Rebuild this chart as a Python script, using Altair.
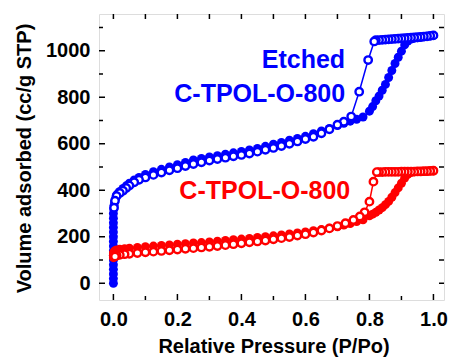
import altair as alt
import pandas as pd

# ---- data ----
etched_ads_P = [0, 0, 0, 0, 0, 0, 0, 0, 0, 0, 0, 0, 0, 0, 0, 0, 0.001, 0.002, 0.004, 0.007,
                0.01, 0.015, 0.02, 0.03, 0.04, 0.05, 0.065, 0.08, 0.1, 0.125, 0.15, 0.175, 0.2,
                0.225, 0.25, 0.275, 0.3, 0.325, 0.35, 0.375, 0.4, 0.425, 0.45, 0.475, 0.5,
                0.525, 0.55, 0.575, 0.6, 0.625, 0.65, 0.675, 0.7, 0.72, 0.74, 0.76, 0.78, 0.8,
                0.81, 0.82, 0.83, 0.84, 0.85, 0.86, 0.87, 0.88, 0.89, 0.9, 0.91, 0.92, 0.93,
                0.94, 0.95, 0.96, 0.97, 0.98, 0.99, 1.0]
etched_ads_V = [0, 20, 40, 60, 80, 100, 120, 140, 160, 180, 200, 220, 240, 260, 280, 300, 320, 335, 350, 365,
                380, 388, 395, 408, 419, 430, 444, 455, 468, 480, 490, 500, 510,
                520, 530, 537, 543, 549, 555, 561, 567, 573, 580, 589, 598,
                606, 615, 623, 632, 643, 655, 666, 678, 688, 697, 705, 715, 740,
                760, 785, 805, 830, 855, 885, 915, 945, 972, 998, 1025, 1042, 1050,
                1054, 1056, 1058, 1060, 1062, 1064, 1066]
etched_des_P = [1.0, 0.99, 0.98, 0.97, 0.96, 0.95, 0.94, 0.93, 0.92, 0.91, 0.9, 0.89, 0.88, 0.87,
                0.86, 0.85, 0.84, 0.83, 0.82, 0.815, 0.796, 0.768, 0.743, 0.72, 0.7, 0.675, 0.65,
                0.625, 0.6, 0.575, 0.55, 0.525, 0.5, 0.475, 0.45, 0.425, 0.4, 0.375, 0.35, 0.325,
                0.3, 0.275, 0.25, 0.225, 0.2, 0.175, 0.15, 0.125, 0.1, 0.08, 0.065, 0.05, 0.04,
                0.03, 0.02, 0.01, 0.005, 0.002]
etched_des_V = [1066, 1064, 1062, 1061, 1059, 1058, 1057, 1056, 1055, 1054, 1053, 1052, 1051, 1050,
                1049, 1048, 1047, 1046, 1045, 1040, 960, 824, 717, 695, 682, 662, 645,
                630, 620, 610, 600, 590, 582, 574, 566, 558, 552, 546, 540, 534,
                528, 520, 513, 504, 495, 486, 476, 466, 455, 445, 434, 420, 410,
                398, 388, 375, 355, 325]

pristine_ads_P = [0, 0, 0, 0.002, 0.005, 0.01, 0.02, 0.035, 0.05, 0.075, 0.1, 0.125, 0.15, 0.175,
                  0.2, 0.225, 0.25, 0.275, 0.3, 0.325, 0.35, 0.375, 0.4, 0.425, 0.45, 0.475, 0.5,
                  0.525, 0.55, 0.575, 0.6, 0.625, 0.65, 0.675, 0.7, 0.72, 0.74, 0.76, 0.78, 0.8,
                  0.81, 0.82, 0.83, 0.84, 0.85, 0.86, 0.87, 0.88, 0.89, 0.9, 0.91, 0.92, 0.93,
                  0.94, 0.95, 0.96, 0.97, 0.98, 0.99, 1.0]
pristine_ads_V = [110, 120, 130, 135, 140, 143, 146, 149, 151, 154, 157, 160, 163, 165,
                  168, 170, 173, 175, 178, 181, 184, 187, 190, 193, 197, 200, 204,
                  208, 212, 216, 221, 226, 231, 237, 243, 250, 257, 265, 273, 290,
                  297, 305, 315, 325, 338, 352, 370, 390, 410, 430, 452, 468, 476,
                  479, 480, 481, 481, 482, 483, 484]
pristine_des_P = [1.0, 0.99, 0.98, 0.97, 0.96, 0.95, 0.94, 0.93, 0.92, 0.91, 0.9, 0.89, 0.88, 0.87,
                  0.86, 0.85, 0.84, 0.83, 0.823, 0.8125, 0.8, 0.785, 0.77, 0.75, 0.725, 0.7, 0.675,
                  0.65, 0.625, 0.6, 0.575, 0.55, 0.525, 0.5, 0.475, 0.45, 0.425, 0.4, 0.375, 0.35,
                  0.325, 0.3, 0.275, 0.25, 0.225, 0.2, 0.175, 0.15, 0.125, 0.1, 0.075, 0.05, 0.035,
                  0.02, 0.01, 0.005]
pristine_des_V = [484, 483, 482, 482, 481, 481, 480, 480, 480, 480, 480, 479, 479, 479,
                  479, 479, 478, 478, 478, 437, 351, 305, 287, 272, 258, 246, 236,
                  227, 218, 211, 205, 199, 194, 189, 184, 180, 176, 172, 168, 164,
                  160, 157, 154, 151, 148, 145, 142, 139, 136, 133, 130, 127, 125,
                  122, 119, 115]

series_names = ["Etched", "Pristine"]
series_colors = ["#0000ff", "#ff0000"]

label_texts = ["Etched", "C-TPOL-O-800", "C-TPOL-O-800"]
label_series = ["Etched", "Etched", "Pristine"]
label_P = [0.724, 0.724, 0.74]
label_V = [926, 779, 363]

x_major = [0.0, 0.2, 0.4, 0.6, 0.8, 1.0]
x_minor = [0.1, 0.3, 0.5, 0.7, 0.9]
y_major = [0, 200, 400, 600, 800, 1000]
y_minor = [100, 300, 500, 700, 900, 1100]

# ---- build tables ----
rows = []
for name, phase, P, V in [("Etched", "ads", etched_ads_P, etched_ads_V),
                          ("Etched", "des", etched_des_P, etched_des_V),
                          ("Pristine", "ads", pristine_ads_P, pristine_ads_V),
                          ("Pristine", "des", pristine_des_P, pristine_des_V)]:
    for i, (p, v) in enumerate(zip(P, V)):
        rows.append({"series": name, "phase": phase, "order": i, "P": p, "V": v})
df = pd.DataFrame(rows)
ads = df[df.phase == "ads"]
des = df[df.phase == "des"]

labels_df = pd.DataFrame({"text": label_texts, "series": label_series, "P": label_P, "V": label_V})
xmaj_df = pd.DataFrame({"t": x_major})
xmin_df = pd.DataFrame({"t": x_minor})
ymaj_df = pd.DataFrame({"t": y_major})
ymin_df = pd.DataFrame({"t": y_minor})

W, H = 345, 286
FONT = "Arial"

xs = alt.Scale(domain=[-0.045, 1.033], nice=False, zero=False)
ys = alt.Scale(domain=[-72, 1158], nice=False, zero=False)
cs = alt.Scale(domain=series_names, range=series_colors)

x_axis = alt.Axis(values=x_major, format=".1f", ticks=False, domain=False, grid=False,
                  labelFontSize=20, labelFontWeight="bold", labelColor="black", labelFont=FONT,
                  labelPadding=9, title="Relative Pressure (P/Po)", titleFontSize=20,
                  titleFontWeight="bold", titleFont=FONT, titleColor="black", titlePadding=7,
                  titleLimit=600, titleX=W / 2 + 2)
y_axis = alt.Axis(values=y_major, format="d", ticks=False, domain=False, grid=False,
                  labelFontSize=20, labelFontWeight="bold", labelColor="black", labelFont=FONT,
                  labelPadding=9, title="Volume adsorbed (cc/g STP)", titleFontSize=20,
                  titleFontWeight="bold", titleFont=FONT, titleColor="black", titlePadding=11,
                  titleLimit=600, titleY=H / 2 + 1)

X = alt.X("P:Q", scale=xs, axis=x_axis)
Y = alt.Y("V:Q", scale=ys, axis=y_axis)
C = alt.Color("series:N", scale=cs, legend=None)

line_ads = alt.Chart(ads).mark_line(strokeWidth=1.5).encode(
    x=X, y=Y, color=C, detail="series:N", order="order:Q")
pts_ads = alt.Chart(ads).mark_point(filled=True, size=80, opacity=1, shape="circle").encode(
    x="P:Q", y="V:Q", color=C)
line_des = alt.Chart(des).mark_line(strokeWidth=1.5).encode(
    x="P:Q", y="V:Q", color=C, detail="series:N", order="order:Q")
pts_des = alt.Chart(des).mark_point(filled=False, size=55, strokeWidth=2.4, opacity=1,
                                   shape="circle").encode(
    x="P:Q", y="V:Q", stroke=alt.Stroke("series:N", scale=cs, legend=None),
    fill=alt.value("white"))

texts = alt.Chart(labels_df).mark_text(align="right", baseline="alphabetic", fontSize=25,
                                       fontWeight="bold", font=FONT).encode(
    x="P:Q", y="V:Q", text="text:N", color=C)

TK = dict(color="black", strokeWidth=1.5)
ticks = [
    alt.Chart(xmaj_df).mark_rule(**TK).encode(x="t:Q", y=alt.value(H), y2=alt.value(H - 6)),
    alt.Chart(xmin_df).mark_rule(**TK).encode(x="t:Q", y=alt.value(H), y2=alt.value(H - 4)),
    alt.Chart(xmaj_df).mark_rule(**TK).encode(x="t:Q", y=alt.value(0), y2=alt.value(5)),
    alt.Chart(xmin_df).mark_rule(**TK).encode(x="t:Q", y=alt.value(0), y2=alt.value(5)),
    alt.Chart(ymaj_df).mark_rule(**TK).encode(y="t:Q", x=alt.value(0), x2=alt.value(6)),
    alt.Chart(ymin_df).mark_rule(**TK).encode(y="t:Q", x=alt.value(0), x2=alt.value(4)),
    alt.Chart(ymaj_df).mark_rule(**TK).encode(y="t:Q", x=alt.value(W), x2=alt.value(W - 5)),
    alt.Chart(ymin_df).mark_rule(**TK).encode(y="t:Q", x=alt.value(W), x2=alt.value(W - 5)),
]

chart = alt.layer(line_ads, pts_ads, line_des, pts_des, texts, *ticks).properties(
    width=W, height=H,
    autosize=alt.AutoSizeParams(type="none"),
    padding={"left": 99, "top": 14, "right": 7, "bottom": 62},
).configure_view(stroke="black", strokeWidth=2).configure(background="white")

chart.save("out.html", embed_options={"renderer": "svg", "actions": False})
